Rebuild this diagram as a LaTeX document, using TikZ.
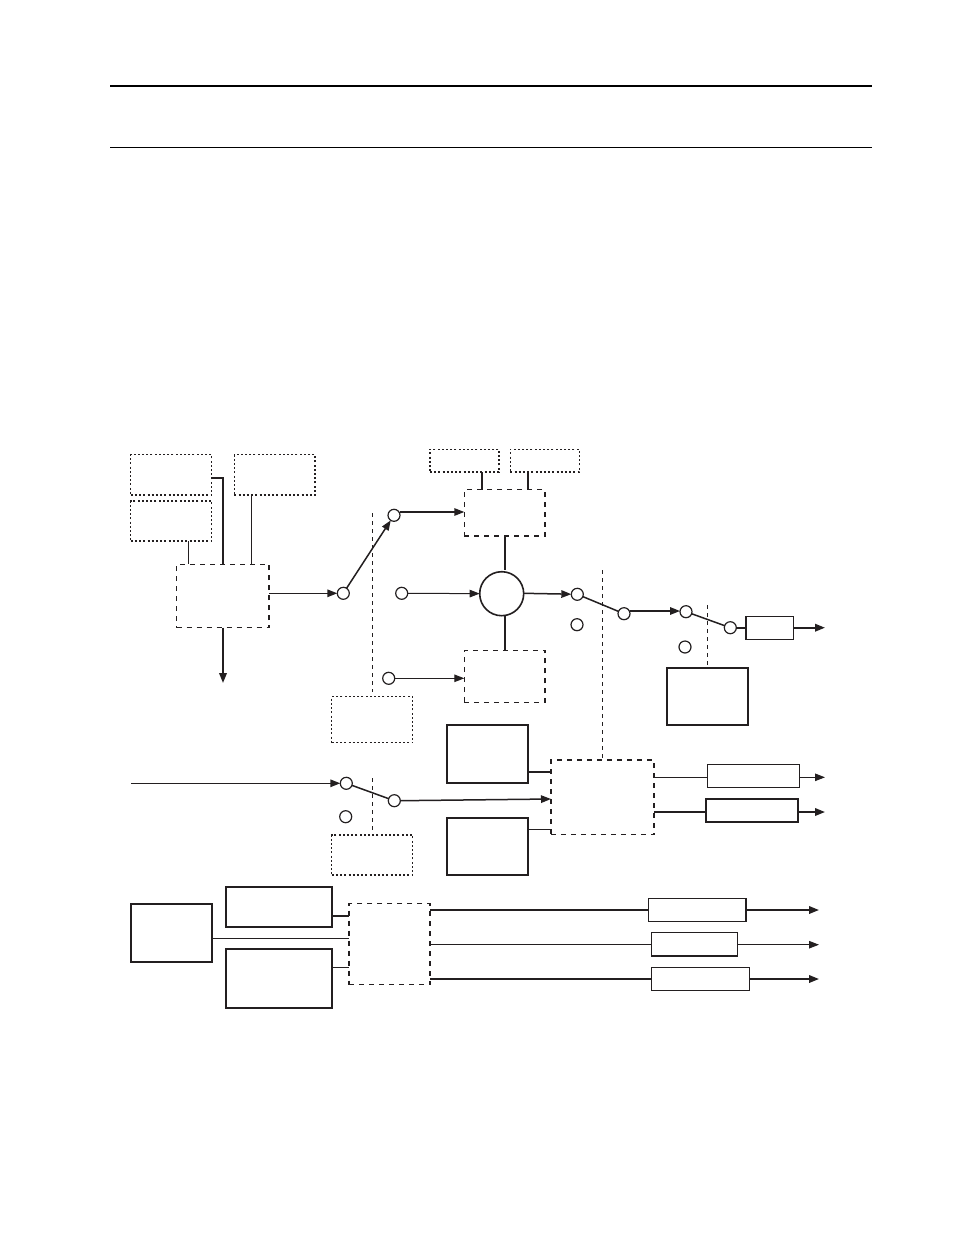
\documentclass[tikz,border=0pt]{standalone}
\usetikzlibrary{arrows.meta}
\definecolor{ink}{HTML}{231F20}
\tikzset{
  base/.style={draw=ink,fill=white,inner sep=0pt,outer sep=0pt,rectangle},
  dotbox/.style={base,line width=1.4pt,dash pattern=on 2pt off 2.2pt},
  dashbox/.style={base,line width=1.4pt,dash pattern=on 5pt off 5pt},
  thinbox/.style={base,line width=1.2pt},
  thickbox/.style={base,line width=2pt},
  sw/.style={draw=ink,fill=white,circle,line width=1.2pt,minimum size=12pt,inner sep=0pt,outer sep=0pt},
  thin link/.style={draw=ink,line width=1pt},
  thick link/.style={draw=ink,line width=1.9pt},
  mid link/.style={draw=ink,line width=1.5pt},
  arrowed/.style={-{Triangle[length=10pt,width=7.5pt]}},
  guide/.style={draw=ink,line width=1pt,dash pattern=on 4pt off 4pt},
}
\newcommand{\bx}[6]{\node[#2,anchor=north west,minimum width={(#5-#3)*1pt},minimum height={(#6-#4)*1pt}] (#1) at (#3,#4) {};}
\begin{document}
\begin{tikzpicture}[x=1pt,y=-1pt]
\useasboundingbox[fill=white] (0,0) rectangle (954,1235);
% page rules
\coordinate (r1a) at (110,86); \coordinate (r1b) at (872,86);
\coordinate (r2a) at (110,147.7); \coordinate (r2b) at (872,147.7);
\draw[draw=black,line width=2pt] (r1a) -- (r1b);
\draw[draw=black,line width=1pt] (r2a) -- (r2b);
% guides
\coordinate (g1a) at (372.5,513); \coordinate (g1b) at (372.5,692);
\coordinate (g2a) at (372.5,778); \coordinate (g2b) at (372.5,830);
\coordinate (g3a) at (602.5,570); \coordinate (g3b) at (602.5,760);
\coordinate (g4a) at (707.5,605); \coordinate (g4b) at (707.5,668);
\draw[guide] (g1a) -- (g1b);
\draw[guide] (g2a) -- (g2b);
\draw[guide] (g3a) -- (g3b);
\draw[guide] (g4a) -- (g4b);
% boxes
\bx{A}{dotbox}{130.7}{454.7}{211.7}{495}
\bx{B}{dotbox}{130.7}{501}{211.7}{541}
\bx{C}{dotbox}{234.3}{454.7}{315}{495}
\bx{D}{dashbox}{176.7}{564.3}{269}{627.7}
\bx{E}{dotbox}{430}{449.3}{499}{472}
\bx{F}{dotbox}{510.3}{449.3}{579.3}{472}
\bx{G}{dashbox}{464.3}{489.7}{545}{536}
\bx{H}{dashbox}{464.3}{650.7}{545}{702.7}
\bx{I}{thinbox}{746}{616.7}{793.3}{639.3}
\bx{J}{thickbox}{666.7}{668}{748}{725.3}
\bx{K}{dotbox}{331.7}{696.7}{412.7}{742.7}
\bx{L}{dotbox}{331.7}{835}{412.7}{875}
\bx{R}{thickbox}{446.7}{725.3}{528.3}{783.3}
\bx{S}{thickbox}{446.7}{818}{528.3}{875.3}
\bx{M}{dashbox}{551}{760}{654}{834.7}
\bx{T}{thinbox}{707.3}{764.3}{799.3}{787.3}
\bx{U}{thickbox}{706}{799}{798.3}{822}
\bx{N}{thickbox}{226}{886.7}{332}{927}
\bx{O}{thickbox}{226}{948.7}{332}{1008}
\bx{P}{thickbox}{131}{903.7}{211.7}{962}
\bx{Q}{dashbox}{349}{903.7}{430}{984.7}
\bx{V}{thinbox}{648.3}{898.3}{746}{921.3}
\bx{W}{thinbox}{651.3}{932.7}{737.7}{956}
\bx{X}{thinbox}{651.3}{967.3}{749.3}{990.7}
\node[draw=ink,fill=white,circle,line width=1.6pt,minimum size=44pt,inner sep=0pt,outer sep=0pt] (sum) at (501.7,593.7) {};
% switch points
\node[sw] (s1) at (343.3,593.3) {};
\node[sw] (s2) at (394,515.3) {};
\node[sw] (s3) at (401.7,593.3) {};
\node[sw] (s4) at (388.7,678.3) {};
\node[sw] (s5) at (577.3,594.3) {};
\node[sw] (s6) at (577,624.7) {};
\node[sw] (s7) at (624,613.7) {};
\node[sw] (s8) at (686,611.7) {};
\node[sw] (s9) at (685,647) {};
\node[sw] (s10) at (730.3,627.7) {};
\node[sw] (s11) at (346.3,783.3) {};
\node[sw] (s12) at (394.3,800.7) {};
\node[sw] (s13) at (345.7,816.7) {};
% free ends
\coordinate (in) at (131,783.3);
\coordinate (outD) at (223,683);
\coordinate (outI) at (825,627.7);
\coordinate (outT) at (825,777.3);
\coordinate (outU) at (825,812);
\coordinate (outV) at (819,910);
\coordinate (outW) at (819,944.7);
\coordinate (outX) at (819,979);
\coordinate (kA) at (223,478);
% top left connectors
\draw[thin link] (B.south -| 188.7,0) -- (D.north -| 188.7,0);
\draw[thick link] (A.east |- kA) -- (kA) -- (D.north -| kA);
\draw[thin link] (C.south -| 251.3,0) -- (D.north -| 251.3,0);
\draw[thick link,arrowed] (D.south -| outD) -- (outD);
\draw[mid link,arrowed] (D.east |- s1) -- (s1);
\draw[mid link,arrowed] (s1) -- (s2);
\draw[mid link,arrowed] (s2.east |- 0,512) -- (G.west |- 0,512);
\draw[thin link,arrowed] (s3) -- (sum);
\draw[thin link,arrowed] (s4) -- (H.west |- s4);
\draw[thick link] (E.south -| 482,0) -- (G.north -| 482,0);
\draw[thick link] (F.south -| 528,0) -- (G.north -| 528,0);
\draw[thick link] (G.south -| 505,0) -- (505,570);
\draw[thick link] (505,616) -- (H.north -| 505,0);
\draw[mid link,arrowed] (sum.east |- 0,593.3) -- (s5);
\draw[mid link] (s5) -- (s7);
\draw[mid link,arrowed] (s7.east |- 0,611) -- (s8.west |- 0,611);
\draw[mid link] (s8) -- (s10);
\draw[thick link] (s10) -- (I.west |- s10);
\draw[thick link,arrowed] (I.east |- outI) -- (outI);
% middle connectors
\draw[mid link,arrowed] (in) -- (s11);
\draw[mid link] (s11) -- (s12);
\draw[mid link,arrowed] (s12.east) -- (M.west |- 0,799);
\draw[thick link] (R.east |- 0,771.7) -- (M.west |- 0,771.7);
\draw[thin link] (S.east |- 0,829.3) -- (M.west |- 0,829.3);
\draw[thin link] (M.east |- outT) -- (T.west |- outT);
\draw[thin link,arrowed] (T.east |- outT) -- (outT);
\draw[thick link] (M.east |- outU) -- (U.west |- outU);
\draw[thick link,arrowed] (U.east |- outU) -- (outU);
% bottom connectors
\draw[thick link] (N.east |- 0,916) -- (Q.west |- 0,916);
\draw[thin link] (P.east |- 0,938.3) -- (Q.west |- 0,938.3);
\draw[thin link] (O.east |- 0,967.3) -- (Q.west |- 0,967.3);
\draw[thick link] (Q.east |- outV) -- (V.west |- outV);
\draw[thick link,arrowed] (V.east |- outV) -- (outV);
\draw[thin link] (Q.east |- outW) -- (W.west |- outW);
\draw[thin link,arrowed] (W.east |- outW) -- (outW);
\draw[thick link] (Q.east |- outX) -- (X.west |- outX);
\draw[thick link,arrowed] (X.east |- outX) -- (outX);
\end{tikzpicture}
\end{document}
